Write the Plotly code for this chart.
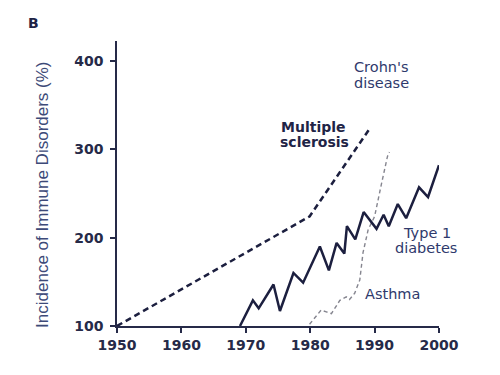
import plotly.graph_objects as go

# Data
diabetes_year = [1969.1, 1971.1, 1972.0, 1974.3, 1975.3, 1977.4, 1978.9, 1981.5, 1982.9,
                 1984.1, 1985.3, 1985.7, 1987.0, 1988.3, 1990.3, 1991.4, 1992.2, 1993.6,
                 1994.9, 1996.9, 1998.3, 2000.0]
diabetes_val = [100, 129, 120, 147, 117, 160, 149, 190, 163, 194, 182, 213, 198, 229, 210,
                226, 213, 238, 222, 257, 246, 282]

ms_year = [1950, 1979.9, 1989.2]
ms_val = [100, 224, 323]

asthma_year = [1979.9, 1981.7, 1982.5, 1983.3, 1984.6, 1985.6, 1986.1, 1986.9, 1987.7,
               1988.2, 1989.0, 1990.0, 1991.1, 1992.0, 1992.3]
asthma_val = [102, 118, 116, 114, 129, 133, 130, 137, 152, 183, 209, 224, 262, 292, 297]

x_ticks = [1950, 1960, 1970, 1980, 1990, 2000]
y_ticks = [100, 200, 300, 400]

navy = "#1c1f3f"
label_col = "#2f3a6c"

fig = go.Figure()
fig.add_trace(go.Scatter(x=ms_year, y=ms_val, mode="lines",
                         line=dict(color=navy, width=2.5, dash="6px,4px"), showlegend=False))
fig.add_trace(go.Scatter(x=asthma_year, y=asthma_val, mode="lines",
                         line=dict(color="#85858f", width=1.4, dash="4px,3px"), showlegend=False))
fig.add_trace(go.Scatter(x=diabetes_year, y=diabetes_val, mode="lines",
                         line=dict(color=navy, width=2.5), showlegend=False))

tickfont = dict(family="DejaVu Sans", size=14, color="#262a48", weight="bold")
fig.update_xaxes(range=[1950, 2000], tickvals=x_ticks, showline=True, linecolor="#262a48",
                 linewidth=1.5, ticks="outside", ticklen=5, tickwidth=1.5, tickcolor="#262a48",
                 showgrid=False, zeroline=False, tickfont=tickfont, automargin=False)
fig.update_yaxes(range=[100, 422.6], tickvals=y_ticks, showline=True, linecolor="#262a48",
                 linewidth=1.5, ticks="outside", ticklen=5, tickwidth=1.5, tickcolor="#262a48",
                 showgrid=False, zeroline=False, tickfont=tickfont, automargin=False,
                 ticklabelstandoff=4)

# y-axis title placed as rotated text
fig.add_annotation(xref="paper", yref="paper", x=-0.2298, y=0.46, textangle=-90,
                   text="Incidence of Immune Disorders (%)", showarrow=False,
                   xanchor="center", yanchor="middle",
                   font=dict(family="Liberation Sans", size=17, color="#3d4a78"))

ann_font = dict(family="DejaVu Sans", size=14.5, color=label_col)
ms_font = dict(family="DejaVu Sans", size=14, color="#1f2446", weight="bold")
labels = [
    ("Crohn's", 1991.1, 393.2, ann_font),
    ("disease", 1991.1, 375.1, ann_font),
    ("Multiple", 1980.5, 325.3, ms_font),
    ("sclerosis", 1980.6, 308.6, ms_font),
    ("Type 1", 1998.2, 205.3, ann_font),
    ("diabetes", 1998.0, 188.3, ann_font),
    ("Asthma", 1992.8, 136.2, ann_font),
]
for txt, xx, yy, f in labels:
    fig.add_annotation(x=xx, y=yy, text=txt, showarrow=False, font=f,
                       xanchor="center", yanchor="middle")

fig.add_annotation(xref="paper", yref="paper", x=-0.258, y=1.063, text="<b>B</b>", showarrow=False,
                   xanchor="center", yanchor="middle",
                   font=dict(family="DejaVu Sans", size=14, color="#1f2446"))

fig.update_layout(width=500, height=375, margin=dict(l=109, r=69, t=33, b=57, autoexpand=False),
                  plot_bgcolor="white", paper_bgcolor="white")
fig.write_html("out.html")
